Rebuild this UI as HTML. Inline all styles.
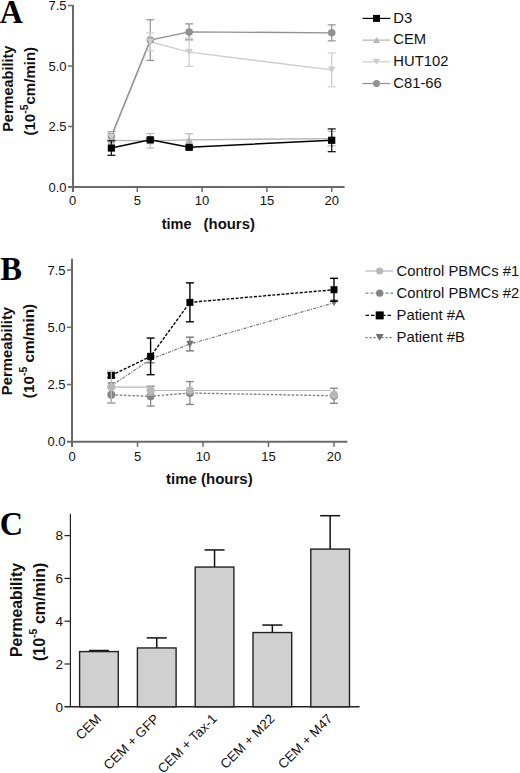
<!DOCTYPE html>
<html><head><meta charset="utf-8"><style>
html,body{margin:0;padding:0;background:#fff;}
body{width:520px;height:773px;overflow:hidden;font-family:"Liberation Sans",sans-serif;}
svg{display:block;}
</style></head><body>
<svg width="520" height="773" viewBox="0 0 520 773">
<line x1="73" y1="5" x2="73" y2="192" stroke="#6a6a6a" stroke-width="2" />
<line x1="68" y1="187" x2="344.6" y2="187" stroke="#6a6a6a" stroke-width="2" />
<line x1="68" y1="126.5" x2="73" y2="126.5" stroke="#6a6a6a" stroke-width="1.5" />
<line x1="68" y1="66.0" x2="73" y2="66.0" stroke="#6a6a6a" stroke-width="1.5" />
<line x1="68" y1="5.5" x2="73" y2="5.5" stroke="#6a6a6a" stroke-width="1.5" />
<line x1="137.3" y1="187" x2="137.3" y2="192" stroke="#6a6a6a" stroke-width="1.5" />
<line x1="202.10000000000002" y1="187" x2="202.10000000000002" y2="192" stroke="#6a6a6a" stroke-width="1.5" />
<line x1="266.9" y1="187" x2="266.9" y2="192" stroke="#6a6a6a" stroke-width="1.5" />
<line x1="331.70000000000005" y1="187" x2="331.70000000000005" y2="192" stroke="#6a6a6a" stroke-width="1.5" />
<text x="66.5" y="191.6" font-size="13" text-anchor="end" font-weight="normal" fill="#111" font-family="Liberation Sans, sans-serif" >0.0</text>
<text x="66.5" y="131.1" font-size="13" text-anchor="end" font-weight="normal" fill="#111" font-family="Liberation Sans, sans-serif" >2.5</text>
<text x="66.5" y="70.6" font-size="13" text-anchor="end" font-weight="normal" fill="#111" font-family="Liberation Sans, sans-serif" >5.0</text>
<text x="66.5" y="10.1" font-size="13" text-anchor="end" font-weight="normal" fill="#111" font-family="Liberation Sans, sans-serif" >7.5</text>
<text x="72.5" y="205.4" font-size="13" text-anchor="middle" font-weight="normal" fill="#111" font-family="Liberation Sans, sans-serif" >0</text>
<text x="137.3" y="205.4" font-size="13" text-anchor="middle" font-weight="normal" fill="#111" font-family="Liberation Sans, sans-serif" >5</text>
<text x="202.10000000000002" y="205.4" font-size="13" text-anchor="middle" font-weight="normal" fill="#111" font-family="Liberation Sans, sans-serif" >10</text>
<text x="266.9" y="205.4" font-size="13" text-anchor="middle" font-weight="normal" fill="#111" font-family="Liberation Sans, sans-serif" >15</text>
<text x="331.70000000000005" y="205.4" font-size="13" text-anchor="middle" font-weight="normal" fill="#111" font-family="Liberation Sans, sans-serif" >20</text>
<path d="M111.38,137.39 L150.26,41.80 L189.14,52.21 L331.70,69.87" fill="none" stroke="#cdcdcd" stroke-width="1.3" />
<path d="M111.38,140.29 L150.26,140.78 L189.14,139.81 L331.70,138.60" fill="none" stroke="#b4b4b4" stroke-width="1.3" />
<path d="M111.38,135.94 L150.26,40.11 L189.14,31.88 L331.70,32.85" fill="none" stroke="#919191" stroke-width="1.4" />
<line x1="111.38" y1="131.824" x2="111.38" y2="140.052" stroke="#919191" stroke-width="1.2" />
<line x1="107.38" y1="131.824" x2="115.38" y2="131.824" stroke="#919191" stroke-width="1.2" />
<line x1="107.38" y1="140.052" x2="115.38" y2="140.052" stroke="#919191" stroke-width="1.2" />
<line x1="150.26" y1="19.77799999999999" x2="150.26" y2="60.434" stroke="#919191" stroke-width="1.2" />
<line x1="146.26" y1="19.77799999999999" x2="154.26" y2="19.77799999999999" stroke="#919191" stroke-width="1.2" />
<line x1="146.26" y1="60.434" x2="154.26" y2="60.434" stroke="#919191" stroke-width="1.2" />
<line x1="189.14000000000001" y1="23.891999999999996" x2="189.14000000000001" y2="39.864000000000004" stroke="#919191" stroke-width="1.2" />
<line x1="185.14000000000001" y1="23.891999999999996" x2="193.14000000000001" y2="23.891999999999996" stroke="#919191" stroke-width="1.2" />
<line x1="185.14000000000001" y1="39.864000000000004" x2="193.14000000000001" y2="39.864000000000004" stroke="#919191" stroke-width="1.2" />
<line x1="331.70000000000005" y1="24.860000000000014" x2="331.70000000000005" y2="40.831999999999994" stroke="#919191" stroke-width="1.2" />
<line x1="327.70000000000005" y1="24.860000000000014" x2="335.70000000000005" y2="24.860000000000014" stroke="#919191" stroke-width="1.2" />
<line x1="327.70000000000005" y1="40.831999999999994" x2="335.70000000000005" y2="40.831999999999994" stroke="#919191" stroke-width="1.2" />
<circle cx="111.38" cy="135.94" r="3.75" fill="#919191"/>
<circle cx="150.26" cy="40.11" r="3.75" fill="#919191"/>
<circle cx="189.14" cy="31.88" r="3.75" fill="#919191"/>
<circle cx="331.70" cy="32.85" r="3.75" fill="#919191"/>
<line x1="111.38" y1="132.55" x2="111.38" y2="142.23000000000002" stroke="#cdcdcd" stroke-width="1.2" />
<line x1="107.38" y1="132.55" x2="115.38" y2="132.55" stroke="#cdcdcd" stroke-width="1.2" />
<line x1="107.38" y1="142.23000000000002" x2="115.38" y2="142.23000000000002" stroke="#cdcdcd" stroke-width="1.2" />
<line x1="150.26" y1="32.846000000000004" x2="150.26" y2="50.75400000000002" stroke="#cdcdcd" stroke-width="1.2" />
<line x1="146.26" y1="32.846000000000004" x2="154.26" y2="32.846000000000004" stroke="#cdcdcd" stroke-width="1.2" />
<line x1="146.26" y1="50.75400000000002" x2="154.26" y2="50.75400000000002" stroke="#cdcdcd" stroke-width="1.2" />
<line x1="189.14000000000001" y1="38.16999999999999" x2="189.14000000000001" y2="66.242" stroke="#cdcdcd" stroke-width="1.2" />
<line x1="185.14000000000001" y1="38.16999999999999" x2="193.14000000000001" y2="38.16999999999999" stroke="#cdcdcd" stroke-width="1.2" />
<line x1="185.14000000000001" y1="66.242" x2="193.14000000000001" y2="66.242" stroke="#cdcdcd" stroke-width="1.2" />
<line x1="331.70000000000005" y1="52.932000000000016" x2="331.70000000000005" y2="86.81200000000001" stroke="#cdcdcd" stroke-width="1.2" />
<line x1="327.70000000000005" y1="52.932000000000016" x2="335.70000000000005" y2="52.932000000000016" stroke="#cdcdcd" stroke-width="1.2" />
<line x1="327.70000000000005" y1="86.81200000000001" x2="335.70000000000005" y2="86.81200000000001" stroke="#cdcdcd" stroke-width="1.2" />
<path d="M107.63,134.02 L115.13,134.02 L111.38,140.77 Z" fill="#cdcdcd"/>
<path d="M146.51,38.43 L154.01,38.43 L150.26,45.18 Z" fill="#cdcdcd"/>
<path d="M185.39,48.83 L192.89,48.83 L189.14,55.58 Z" fill="#cdcdcd"/>
<path d="M327.95,66.50 L335.45,66.50 L331.70,73.25 Z" fill="#cdcdcd"/>
<line x1="150.26" y1="133.518" x2="150.26" y2="148.038" stroke="#b4b4b4" stroke-width="1.1" />
<line x1="146.26" y1="133.518" x2="154.26" y2="133.518" stroke="#b4b4b4" stroke-width="1.1" />
<line x1="146.26" y1="148.038" x2="154.26" y2="148.038" stroke="#b4b4b4" stroke-width="1.1" />
<line x1="189.14000000000001" y1="133.76" x2="189.14000000000001" y2="145.86" stroke="#b4b4b4" stroke-width="1.1" />
<line x1="185.14000000000001" y1="133.76" x2="193.14000000000001" y2="133.76" stroke="#b4b4b4" stroke-width="1.1" />
<line x1="185.14000000000001" y1="145.86" x2="193.14000000000001" y2="145.86" stroke="#b4b4b4" stroke-width="1.1" />
<line x1="331.70000000000005" y1="131.34" x2="331.70000000000005" y2="145.86" stroke="#b4b4b4" stroke-width="1.1" />
<line x1="327.70000000000005" y1="131.34" x2="335.70000000000005" y2="131.34" stroke="#b4b4b4" stroke-width="1.1" />
<line x1="327.70000000000005" y1="145.86" x2="335.70000000000005" y2="145.86" stroke="#b4b4b4" stroke-width="1.1" />
<path d="M107.63,143.67 L115.13,143.67 L111.38,136.92 Z" fill="#b4b4b4"/>
<path d="M146.51,144.15 L154.01,144.15 L150.26,137.40 Z" fill="#b4b4b4"/>
<path d="M185.39,143.19 L192.89,143.19 L189.14,136.44 Z" fill="#b4b4b4"/>
<path d="M327.95,141.97 L335.45,141.97 L331.70,135.22 Z" fill="#b4b4b4"/>
<path d="M111.38,148.04 L150.26,139.81 L189.14,147.31 L331.70,140.29" fill="none" stroke="#000" stroke-width="1.5" />
<line x1="111.38" y1="140.778" x2="111.38" y2="155.298" stroke="#1a1a1a" stroke-width="1.3" />
<line x1="107.38" y1="140.778" x2="115.38" y2="140.778" stroke="#1a1a1a" stroke-width="1.3" />
<line x1="107.38" y1="155.298" x2="115.38" y2="155.298" stroke="#1a1a1a" stroke-width="1.3" />
<line x1="150.26" y1="138.6" x2="150.26" y2="141.02" stroke="#1a1a1a" stroke-width="1.3" />
<line x1="146.26" y1="138.6" x2="154.26" y2="138.6" stroke="#1a1a1a" stroke-width="1.3" />
<line x1="146.26" y1="141.02" x2="154.26" y2="141.02" stroke="#1a1a1a" stroke-width="1.3" />
<line x1="189.14000000000001" y1="146.102" x2="189.14000000000001" y2="148.522" stroke="#1a1a1a" stroke-width="1.3" />
<line x1="185.14000000000001" y1="146.102" x2="193.14000000000001" y2="146.102" stroke="#1a1a1a" stroke-width="1.3" />
<line x1="185.14000000000001" y1="148.522" x2="193.14000000000001" y2="148.522" stroke="#1a1a1a" stroke-width="1.3" />
<line x1="331.70000000000005" y1="128.92000000000002" x2="331.70000000000005" y2="151.668" stroke="#1a1a1a" stroke-width="1.3" />
<line x1="327.70000000000005" y1="128.92000000000002" x2="335.70000000000005" y2="128.92000000000002" stroke="#1a1a1a" stroke-width="1.3" />
<line x1="327.70000000000005" y1="151.668" x2="335.70000000000005" y2="151.668" stroke="#1a1a1a" stroke-width="1.3" />
<rect x="107.78" y="144.44" width="7.2" height="7.2" fill="#000"/>
<rect x="146.66" y="136.21" width="7.2" height="7.2" fill="#000"/>
<rect x="185.54" y="143.71" width="7.2" height="7.2" fill="#000"/>
<rect x="328.10" y="136.69" width="7.2" height="7.2" fill="#000"/>
<line x1="362.5" y1="18.4" x2="390.3" y2="18.4" stroke="#000" stroke-width="1.2" />
<rect x="373.0" y="14.899999999999999" width="7" height="7" fill="#000"/>
<text x="393.3" y="22.599999999999998" font-size="14.8" text-anchor="start" font-weight="normal" fill="#111" font-family="Liberation Sans, sans-serif" >D3</text>
<line x1="362.5" y1="40.099999999999994" x2="390.3" y2="40.099999999999994" stroke="#b4b4b4" stroke-width="1.2" />
<path d="M373.0,43.099999999999994 L380.0,43.099999999999994 L376.5,37.099999999999994 Z" fill="#b4b4b4"/>
<text x="393.3" y="44.3" font-size="14.8" text-anchor="start" font-weight="normal" fill="#111" font-family="Liberation Sans, sans-serif" >CEM</text>
<line x1="362.5" y1="61.8" x2="390.3" y2="61.8" stroke="#cdcdcd" stroke-width="1.2" />
<path d="M373.0,58.8 L380.0,58.8 L376.5,64.8 Z" fill="#cdcdcd"/>
<text x="393.3" y="66.0" font-size="14.8" text-anchor="start" font-weight="normal" fill="#111" font-family="Liberation Sans, sans-serif" >HUT102</text>
<line x1="362.5" y1="83.5" x2="390.3" y2="83.5" stroke="#919191" stroke-width="1.2" />
<circle cx="376.5" cy="83.5" r="3.5" fill="#919191"/>
<text x="393.3" y="87.7" font-size="14.8" text-anchor="start" font-weight="normal" fill="#111" font-family="Liberation Sans, sans-serif" >C81-66</text>
<text x="0" y="0" font-size="14.5" text-anchor="start" font-weight="bold" fill="#111" font-family="Liberation Sans, sans-serif" transform="translate(12.8,131.8) rotate(-90)">Permeability</text>
<text transform="translate(35.4,135.5) rotate(-90)" font-size="15" font-weight="bold" fill="#111" font-family="Liberation Sans, sans-serif">(10<tspan dy="-7" font-size="10.5">-5</tspan><tspan dy="7">cm/min)</tspan></text>
<text x="161.7" y="228.8" font-size="14.5" text-anchor="start" font-weight="bold" fill="#111" font-family="Liberation Sans, sans-serif" >time</text>
<text x="203.6" y="229.2" font-size="14.9" text-anchor="start" font-weight="bold" fill="#111" font-family="Liberation Sans, sans-serif" >(hours)</text>
<text transform="translate(-0.2,22.8) scale(0.93,1)" font-size="34.5" font-weight="bold" fill="#000" font-family="Liberation Serif, serif">A</text>
<line x1="72" y1="258.7" x2="72" y2="447" stroke="#6a6a6a" stroke-width="2" />
<line x1="67" y1="441.8" x2="347.4" y2="441.8" stroke="#6a6a6a" stroke-width="2" />
<line x1="67" y1="384.55" x2="72" y2="384.55" stroke="#6a6a6a" stroke-width="1.5" />
<line x1="67" y1="327.3" x2="72" y2="327.3" stroke="#6a6a6a" stroke-width="1.5" />
<line x1="67" y1="270.05" x2="72" y2="270.05" stroke="#6a6a6a" stroke-width="1.5" />
<line x1="137.5" y1="441.8" x2="137.5" y2="446.8" stroke="#6a6a6a" stroke-width="1.5" />
<line x1="203.0" y1="441.8" x2="203.0" y2="446.8" stroke="#6a6a6a" stroke-width="1.5" />
<line x1="268.5" y1="441.8" x2="268.5" y2="446.8" stroke="#6a6a6a" stroke-width="1.5" />
<line x1="334.0" y1="441.8" x2="334.0" y2="446.8" stroke="#6a6a6a" stroke-width="1.5" />
<text x="65.5" y="446.40000000000003" font-size="13" text-anchor="end" font-weight="normal" fill="#111" font-family="Liberation Sans, sans-serif" >0.0</text>
<text x="65.5" y="389.15000000000003" font-size="13" text-anchor="end" font-weight="normal" fill="#111" font-family="Liberation Sans, sans-serif" >2.5</text>
<text x="65.5" y="331.90000000000003" font-size="13" text-anchor="end" font-weight="normal" fill="#111" font-family="Liberation Sans, sans-serif" >5.0</text>
<text x="65.5" y="274.65000000000003" font-size="13" text-anchor="end" font-weight="normal" fill="#111" font-family="Liberation Sans, sans-serif" >7.5</text>
<text x="72.0" y="460.5" font-size="13" text-anchor="middle" font-weight="normal" fill="#111" font-family="Liberation Sans, sans-serif" >0</text>
<text x="137.5" y="460.5" font-size="13" text-anchor="middle" font-weight="normal" fill="#111" font-family="Liberation Sans, sans-serif" >5</text>
<text x="203.0" y="460.5" font-size="13" text-anchor="middle" font-weight="normal" fill="#111" font-family="Liberation Sans, sans-serif" >10</text>
<text x="268.5" y="460.5" font-size="13" text-anchor="middle" font-weight="normal" fill="#111" font-family="Liberation Sans, sans-serif" >15</text>
<text x="334.0" y="460.5" font-size="13" text-anchor="middle" font-weight="normal" fill="#111" font-family="Liberation Sans, sans-serif" >20</text>
<path d="M111.30,385.69 L150.60,359.36 L189.90,344.02 L334.00,302.80" fill="none" stroke="#707070" stroke-width="1.1" stroke-dasharray="3,1.3,1,1.3"/>
<line x1="150.6" y1="355.925" x2="150.6" y2="362.795" stroke="#707070" stroke-width="1.3" />
<line x1="146.6" y1="355.925" x2="154.6" y2="355.925" stroke="#707070" stroke-width="1.3" />
<line x1="146.6" y1="362.795" x2="154.6" y2="362.795" stroke="#707070" stroke-width="1.3" />
<line x1="189.89999999999998" y1="337.14700000000005" x2="189.89999999999998" y2="350.88700000000006" stroke="#707070" stroke-width="1.3" />
<line x1="185.89999999999998" y1="337.14700000000005" x2="193.89999999999998" y2="337.14700000000005" stroke="#707070" stroke-width="1.3" />
<line x1="185.89999999999998" y1="350.88700000000006" x2="193.89999999999998" y2="350.88700000000006" stroke="#707070" stroke-width="1.3" />
<path d="M107.55,382.32 L115.05,382.32 L111.30,389.07 Z" fill="#707070"/>
<path d="M146.85,355.99 L154.35,355.99 L150.60,362.74 Z" fill="#707070"/>
<path d="M186.15,340.64 L193.65,340.64 L189.90,347.39 Z" fill="#707070"/>
<path d="M330.25,299.42 L337.75,299.42 L334.00,306.17 Z" fill="#707070"/>
<path d="M111.30,375.39 L150.60,356.38 L189.90,302.34 L334.00,289.74" fill="none" stroke="#000" stroke-width="1.4" stroke-dasharray="3,1.6"/>
<line x1="111.3" y1="373.1" x2="111.3" y2="377.68" stroke="#000" stroke-width="1.4" />
<line x1="107.3" y1="373.1" x2="115.3" y2="373.1" stroke="#000" stroke-width="1.4" />
<line x1="107.3" y1="377.68" x2="115.3" y2="377.68" stroke="#000" stroke-width="1.4" />
<line x1="150.6" y1="338.063" x2="150.6" y2="374.70300000000003" stroke="#000" stroke-width="1.4" />
<line x1="146.6" y1="338.063" x2="154.6" y2="338.063" stroke="#000" stroke-width="1.4" />
<line x1="146.6" y1="374.70300000000003" x2="154.6" y2="374.70300000000003" stroke="#000" stroke-width="1.4" />
<line x1="189.89999999999998" y1="282.874" x2="189.89999999999998" y2="321.80400000000003" stroke="#000" stroke-width="1.4" />
<line x1="185.89999999999998" y1="282.874" x2="193.89999999999998" y2="282.874" stroke="#000" stroke-width="1.4" />
<line x1="185.89999999999998" y1="321.80400000000003" x2="193.89999999999998" y2="321.80400000000003" stroke="#000" stroke-width="1.4" />
<line x1="334.0" y1="278.29400000000004" x2="334.0" y2="301.194" stroke="#000" stroke-width="1.4" />
<line x1="330.0" y1="278.29400000000004" x2="338.0" y2="278.29400000000004" stroke="#000" stroke-width="1.4" />
<line x1="330.0" y1="301.194" x2="338.0" y2="301.194" stroke="#000" stroke-width="1.4" />
<rect x="107.80" y="371.89" width="7" height="7" fill="#000"/>
<rect x="147.10" y="352.88" width="7" height="7" fill="#000"/>
<rect x="186.40" y="298.84" width="7" height="7" fill="#000"/>
<rect x="330.50" y="286.24" width="7" height="7" fill="#000"/>
<path d="M111.30,394.86 L150.60,396.23 L189.90,393.02 L334.00,395.77" fill="none" stroke="#858585" stroke-width="1.4" stroke-dasharray="2.6,1.6"/>
<line x1="111.3" y1="386.611" x2="111.3" y2="403.09900000000005" stroke="#858585" stroke-width="1.3" />
<line x1="107.3" y1="386.611" x2="115.3" y2="386.611" stroke="#858585" stroke-width="1.3" />
<line x1="107.3" y1="403.09900000000005" x2="115.3" y2="403.09900000000005" stroke="#858585" stroke-width="1.3" />
<line x1="150.6" y1="386.382" x2="150.6" y2="406.076" stroke="#858585" stroke-width="1.3" />
<line x1="146.6" y1="386.382" x2="154.6" y2="386.382" stroke="#858585" stroke-width="1.3" />
<line x1="146.6" y1="406.076" x2="154.6" y2="406.076" stroke="#858585" stroke-width="1.3" />
<line x1="189.89999999999998" y1="381.57300000000004" x2="189.89999999999998" y2="404.473" stroke="#858585" stroke-width="1.3" />
<line x1="185.89999999999998" y1="381.57300000000004" x2="193.89999999999998" y2="381.57300000000004" stroke="#858585" stroke-width="1.3" />
<line x1="185.89999999999998" y1="404.473" x2="193.89999999999998" y2="404.473" stroke="#858585" stroke-width="1.3" />
<line x1="334.0" y1="388.214" x2="334.0" y2="403.32800000000003" stroke="#858585" stroke-width="1.3" />
<line x1="330.0" y1="388.214" x2="338.0" y2="388.214" stroke="#858585" stroke-width="1.3" />
<line x1="330.0" y1="403.32800000000003" x2="338.0" y2="403.32800000000003" stroke="#858585" stroke-width="1.3" />
<circle cx="111.30" cy="394.86" r="4.0" fill="#858585"/>
<circle cx="150.60" cy="396.23" r="4.0" fill="#858585"/>
<circle cx="189.90" cy="393.02" r="4.0" fill="#858585"/>
<circle cx="334.00" cy="395.77" r="4.0" fill="#858585"/>
<path d="M111.30,387.07 L150.60,387.07 M150.60,390.50 L189.90,390.50 L330.72,390.50" fill="none" stroke="#b8b8b8" stroke-width="1.2" />
<line x1="111.3" y1="371.039" x2="111.3" y2="403.099" stroke="#b8b8b8" stroke-width="1.3" />
<line x1="107.3" y1="371.039" x2="115.3" y2="371.039" stroke="#b8b8b8" stroke-width="1.3" />
<line x1="107.3" y1="403.099" x2="115.3" y2="403.099" stroke="#b8b8b8" stroke-width="1.3" />
<line x1="150.6" y1="385.924" x2="150.6" y2="395.084" stroke="#b8b8b8" stroke-width="1.3" />
<line x1="146.6" y1="385.924" x2="154.6" y2="385.924" stroke="#b8b8b8" stroke-width="1.3" />
<line x1="146.6" y1="395.084" x2="154.6" y2="395.084" stroke="#b8b8b8" stroke-width="1.3" />
<circle cx="111.30" cy="387.07" r="4.0" fill="#b8b8b8"/>
<circle cx="150.60" cy="390.50" r="4.0" fill="#b8b8b8"/>
<circle cx="189.90" cy="390.50" r="4.0" fill="#b8b8b8"/>
<circle cx="334.00" cy="394.86" r="4.0" fill="#b8b8b8"/>
<line x1="365.5" y1="271.0" x2="393.1" y2="271.0" stroke="#b8b8b8" stroke-width="1.2" />
<circle cx="379.7" cy="271.0" r="3.6" fill="#b8b8b8"/>
<text x="396.6" y="275.6" font-size="14.8" text-anchor="start" font-weight="normal" fill="#111" font-family="Liberation Sans, sans-serif" >Control PBMCs #1</text>
<line x1="365.5" y1="293.2" x2="393.1" y2="293.2" stroke="#858585" stroke-width="1.2" stroke-dasharray="3,2"/>
<circle cx="379.7" cy="293.2" r="3.6" fill="#858585"/>
<text x="396.6" y="297.8" font-size="14.8" text-anchor="start" font-weight="normal" fill="#111" font-family="Liberation Sans, sans-serif" >Control PBMCs #2</text>
<line x1="365.5" y1="315.4" x2="393.1" y2="315.4" stroke="#000" stroke-width="1.2" stroke-dasharray="3.5,2"/>
<rect x="375.7" y="311.4" width="8" height="8" fill="#000"/>
<text x="396.6" y="320.0" font-size="14.8" text-anchor="start" font-weight="normal" fill="#111" font-family="Liberation Sans, sans-serif" >Patient #A</text>
<line x1="365.5" y1="337.6" x2="393.1" y2="337.6" stroke="#707070" stroke-width="1.2" stroke-dasharray="2,2"/>
<path d="M375.7,334.1 L383.7,334.1 L379.7,341.1 Z" fill="#707070"/>
<text x="396.6" y="342.20000000000005" font-size="14.8" text-anchor="start" font-weight="normal" fill="#111" font-family="Liberation Sans, sans-serif" >Patient #B</text>
<text x="0" y="0" font-size="14.85" text-anchor="start" font-weight="bold" fill="#111" font-family="Liberation Sans, sans-serif" transform="translate(11.6,395.2) rotate(-90)">Permeability</text>
<text transform="translate(33.6,398.2) rotate(-90)" font-size="15.3" font-weight="bold" fill="#111" font-family="Liberation Sans, sans-serif">(10<tspan dy="-7" font-size="10.5">-5</tspan><tspan dy="7"> cm/min)</tspan></text>
<text x="166" y="483.9" font-size="15" text-anchor="start" font-weight="bold" fill="#111" font-family="Liberation Sans, sans-serif" >time (hours)</text>
<text transform="translate(0.3,279.8) scale(0.96,1)" font-size="34" font-weight="bold" fill="#000" font-family="Liberation Serif, serif">B</text>
<line x1="70.4" y1="513.7" x2="70.4" y2="706.8" stroke="#222" stroke-width="1.2" />
<line x1="64.5" y1="706.8" x2="359.6" y2="706.8" stroke="#222" stroke-width="1.5" />
<line x1="64.5" y1="664.0" x2="70" y2="664.0" stroke="#222" stroke-width="1.2" />
<line x1="64.5" y1="621.1999999999999" x2="70" y2="621.1999999999999" stroke="#222" stroke-width="1.2" />
<line x1="64.5" y1="578.4" x2="70" y2="578.4" stroke="#222" stroke-width="1.2" />
<line x1="64.5" y1="535.5999999999999" x2="70" y2="535.5999999999999" stroke="#222" stroke-width="1.2" />
<text x="62.9" y="711.5999999999999" font-size="13.5" text-anchor="end" font-weight="normal" fill="#111" font-family="Liberation Sans, sans-serif" >0</text>
<text x="62.9" y="668.8" font-size="13.5" text-anchor="end" font-weight="normal" fill="#111" font-family="Liberation Sans, sans-serif" >2</text>
<text x="62.9" y="625.9999999999999" font-size="13.5" text-anchor="end" font-weight="normal" fill="#111" font-family="Liberation Sans, sans-serif" >4</text>
<text x="62.9" y="583.1999999999999" font-size="13.5" text-anchor="end" font-weight="normal" fill="#111" font-family="Liberation Sans, sans-serif" >6</text>
<text x="62.9" y="540.3999999999999" font-size="13.5" text-anchor="end" font-weight="normal" fill="#111" font-family="Liberation Sans, sans-serif" >8</text>
<line x1="98.94999999999999" y1="651.588" x2="98.94999999999999" y2="650.5179999999999" stroke="#111" stroke-width="1.5" />
<line x1="88.94999999999999" y1="650.5179999999999" x2="108.94999999999999" y2="650.5179999999999" stroke="#111" stroke-width="1.5" />
<rect x="79.60" y="651.59" width="38.7" height="55.21" fill="#d0d0d0" stroke="#222" stroke-width="1.4"/>
<text transform="translate(102.15,719.6) rotate(-45)" font-size="13.3" text-anchor="end" fill="#111" font-family="Liberation Sans, sans-serif">CEM</text>
<line x1="156.74999999999997" y1="647.9499999999999" x2="156.74999999999997" y2="637.8919999999999" stroke="#111" stroke-width="1.5" />
<line x1="146.74999999999997" y1="637.8919999999999" x2="166.74999999999997" y2="637.8919999999999" stroke="#111" stroke-width="1.5" />
<rect x="137.40" y="647.95" width="38.7" height="58.85" fill="#d0d0d0" stroke="#222" stroke-width="1.4"/>
<text transform="translate(159.95,719.6) rotate(-45)" font-size="13.3" text-anchor="end" fill="#111" font-family="Liberation Sans, sans-serif">CEM + GFP</text>
<line x1="214.54999999999998" y1="567.058" x2="214.54999999999998" y2="549.938" stroke="#111" stroke-width="1.5" />
<line x1="204.54999999999998" y1="549.938" x2="224.54999999999998" y2="549.938" stroke="#111" stroke-width="1.5" />
<rect x="195.20" y="567.06" width="38.7" height="139.74" fill="#d0d0d0" stroke="#222" stroke-width="1.4"/>
<text transform="translate(217.75,719.6) rotate(-45)" font-size="13.3" text-anchor="end" fill="#111" font-family="Liberation Sans, sans-serif">CEM + Tax-1</text>
<line x1="272.34999999999997" y1="632.5419999999999" x2="272.34999999999997" y2="625.0519999999999" stroke="#111" stroke-width="1.5" />
<line x1="262.34999999999997" y1="625.0519999999999" x2="282.34999999999997" y2="625.0519999999999" stroke="#111" stroke-width="1.5" />
<rect x="253.00" y="632.54" width="38.7" height="74.26" fill="#d0d0d0" stroke="#222" stroke-width="1.4"/>
<text transform="translate(275.55,719.6) rotate(-45)" font-size="13.3" text-anchor="end" fill="#111" font-family="Liberation Sans, sans-serif">CEM + M22</text>
<line x1="330.15" y1="549.082" x2="330.15" y2="515.698" stroke="#111" stroke-width="1.5" />
<line x1="320.15" y1="515.698" x2="340.15" y2="515.698" stroke="#111" stroke-width="1.5" />
<rect x="310.80" y="549.08" width="38.7" height="157.72" fill="#d0d0d0" stroke="#222" stroke-width="1.4"/>
<text transform="translate(333.35,719.6) rotate(-45)" font-size="13.3" text-anchor="end" fill="#111" font-family="Liberation Sans, sans-serif">CEM + M47</text>
<text x="0" y="0" font-size="15.8" text-anchor="start" font-weight="bold" fill="#111" font-family="Liberation Sans, sans-serif" transform="translate(21.6,657) rotate(-90)">Permeability</text>
<text transform="translate(45,661) rotate(-90)" font-size="16" font-weight="bold" fill="#111" font-family="Liberation Sans, sans-serif">(10<tspan dy="-8" font-size="10.5">-5</tspan><tspan dy="8"> cm/min)</tspan></text>
<text transform="translate(-0.3,535.2) scale(0.95,1)" font-size="34" font-weight="bold" fill="#000" font-family="Liberation Serif, serif">C</text>
</svg>
</body></html>
